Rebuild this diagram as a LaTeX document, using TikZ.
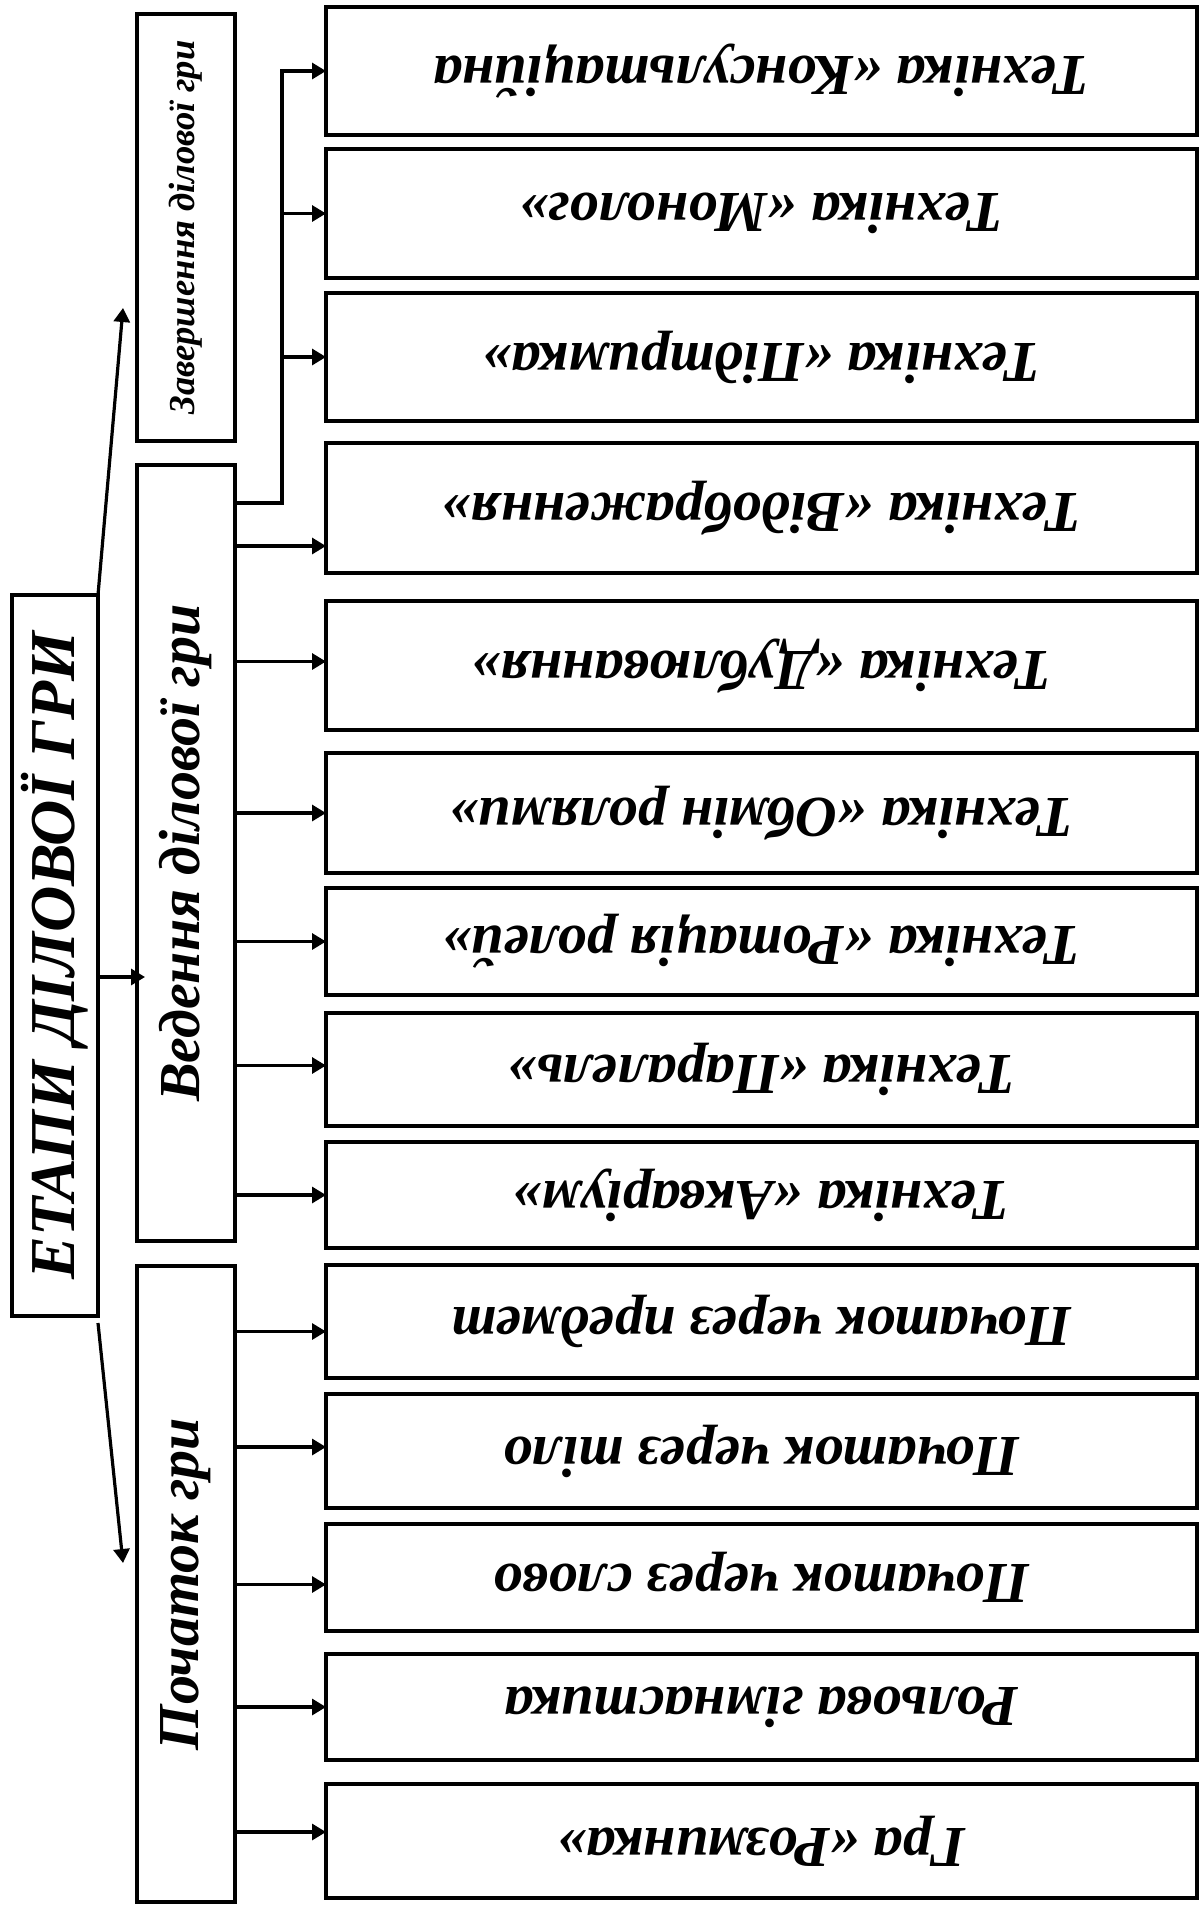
\documentclass[tikz,border=0pt]{standalone}
\usepackage{fontspec}
\setmainfont{Liberation Serif}
\usepackage{graphicx}
\usetikzlibrary{positioning}
\usetikzlibrary{arrows.meta}

\newcommand{\upsidedown}[1]{\rotatebox{180}{#1}}
\newcommand{\sideways}[1]{\rotatebox{90}{#1}}

\begin{document}
\begin{tikzpicture}[x=0.5pt, y=-0.5pt,
        link/.style = {-{Triangle[length=7pt,width=8pt]}, line width=1.6pt},
        tech/.style = {draw, line width=2pt, minimum width=435.5pt, inner sep=0pt, outer sep=0pt,
            font=\bfseries\itshape\fontsize{29}{34}\selectfont},
        stage/.style = {draw, line width=2pt, minimum width=49pt, inner sep=0pt, outer sep=0pt,
            font=\bfseries\itshape\fontsize{29}{34}\selectfont}]
        \useasboundingbox (0,0) rectangle (1203,1906);
        \node[tech, minimum height=64pt] (t1) at (761.5,71) {\upsidedown{Техніка «Консультаційна}};
        \node[tech, below=7pt of t1, minimum height=64.5pt] (t2) {\upsidedown{Техніка «Монолог»}};
        \node[tech, below=7.5pt of t2, minimum height=64pt] (t3) {\upsidedown{Техніка «Підтримка»}};
        \node[tech, below=11pt of t3, minimum height=65pt] (t4) {\upsidedown{Техніка «Відображення»}};
        \node[tech, below=14pt of t4, minimum height=64.5pt] (t5) {\upsidedown{Техніка «Дублювання»}};
        \node[tech, below=11.5pt of t5, minimum height=60pt] (t6) {\upsidedown{Техніка «Обмін ролями»}};
        \node[tech, below=7.5pt of t6, minimum height=53.5pt] (t7) {\upsidedown{Техніка «Ротація ролей»}};
        \node[tech, below=9pt of t7, minimum height=56.5pt] (t8) {\upsidedown{Техніка «Паралель»}};
        \node[tech, below=8pt of t8, minimum height=53pt] (t9) {\upsidedown{Техніка «Акваріум»}};
        \node[tech, below=8.5pt of t9, minimum height=56.5pt] (t10) {\upsidedown{Початок через предмет}};
        \node[tech, below=8pt of t10, minimum height=57pt] (t11) {\upsidedown{Початок через тіло}};
        \node[tech, below=8pt of t11, minimum height=53.5pt] (t12) {\upsidedown{Початок через слово}};
        \node[tech, below=11.5pt of t12, minimum height=53pt] (t13) {\upsidedown{Рольова гімнастика}};
        \node[tech, below=12pt of t13, minimum height=57pt] (t14) {\upsidedown{Гра «Розминка»}};

        \node[stage, minimum height=213.5pt, font=\bfseries\itshape\fontsize{18.3}{22}\selectfont]
            (zav) at (186,227.5) {\sideways{Завершення ділової гри}};
        \node[stage, below=12pt of zav, minimum height=388pt] (ved) {\sideways{Ведення ділової гри}};
        \node[stage, below=12.5pt of ved, minimum height=318pt] (poch) {\sideways{Початок гри}};
        \node[stage, minimum width=43pt, minimum height=360.5pt, font=\bfseries\itshape\fontsize{32}{38}\selectfont]
            (etapy) at (55,955.5) {\sideways{ЕТАПИ ДІЛОВОЇ ГРИ}};

        \coordinate (fork) at (282,503);
        \coordinate (up) at (123,308);
        \coordinate (mid) at (145,977);
        \coordinate (down) at (123,1563);

        \draw[link] (ved.east |- fork) -- (fork) |- (t1.west);
        \foreach \t in {t2,t3}
            \draw[link] (fork |- \t.west) -- (\t.west);
        \foreach \t/\s in {t4/-19pt, t5/2pt, t6/0pt, t7/0pt, t8/2pt, t9/0pt} {
            \path ([yshift=\s]\t.west) coordinate (tip);
            \draw[link] (tip -| ved.east) -- (tip);
        }
        \foreach \t/\s in {t10/-5pt, t11/2pt, t12/-3.5pt, t13/0pt, t14/4.5pt} {
            \path ([yshift=\s]\t.west) coordinate (tip);
            \draw[link] (tip -| poch.east) -- (tip);
        }
        \draw[link] (etapy.north east) -- (up);
        \draw[link] (etapy.east |- mid) -- (mid);
        \draw[link] ([yshift=-3.5pt]etapy.south east) -- (down);
\end{tikzpicture}
\end{document}
